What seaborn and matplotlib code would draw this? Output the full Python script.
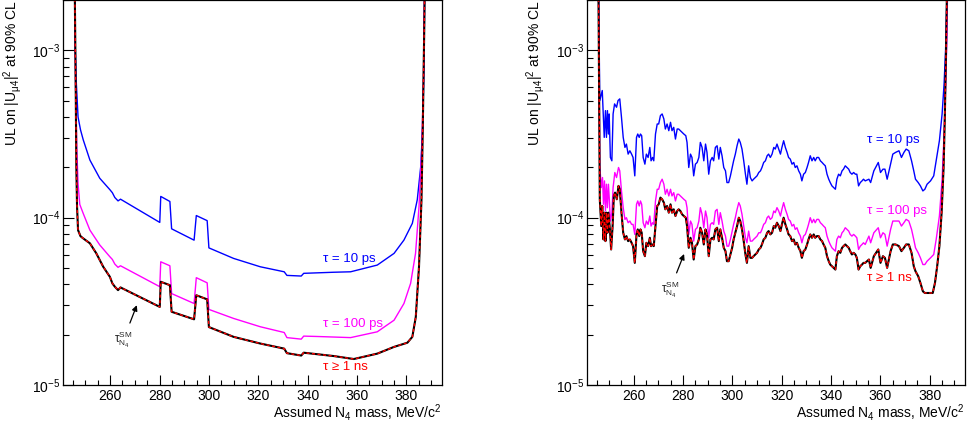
import numpy as np
import matplotlib
matplotlib.use('Agg')
import matplotlib.pyplot as plt
import seaborn as sns
from matplotlib.ticker import MultipleLocator, LogLocator, NullFormatter, FixedFormatter, FixedLocator

# ============================================================
# DATA
# ============================================================
# Left panel: smooth limits, (mass MeV/c2, UL on |U_mu4|^2)
left_10ps = [(245.6, 3e-3), (245.9, 1.0e-3), (246.3, 6.4e-4), (247.0, 4.0e-4), (248.0, 3.35e-4),
             (249.1, 2.92e-4), (251.8, 2.21e-4), (255.8, 1.72e-4), (259.9, 1.47e-4), (260.9, 1.41e-4),
             (261.9, 1.32e-4), (263.2, 1.26e-4), (264.2, 1.29e-4), (280.1, 9.37e-5), (280.5, 1.34e-4),
             (284.2, 1.25e-4), (284.9, 8.58e-5), (294.0, 7.34e-5), (294.9, 1.03e-4), (299.3, 9.6e-5),
             (300.0, 6.6e-5), (310.0, 5.71e-5), (320.8, 5.09e-5), (330.5, 4.75e-5), (331.6, 4.52e-5),
             (337.4, 4.48e-5), (338.4, 4.65e-5), (350.5, 4.72e-5), (357.4, 4.75e-5), (368.2, 5.21e-5),
             (375.0, 6.12e-5), (379.0, 7.35e-5), (382.4, 9.25e-5), (384.4, 1.28e-4), (385.8, 2.02e-4),
             (386.6, 3.51e-4), (387.1, 8.0e-4), (387.5, 3e-3)]
left_100ps = [(245.6, 3e-3), (246.0, 6.0e-4), (246.5, 2.6e-4), (247.0, 1.6e-4), (247.7, 1.2e-4),
              (249.1, 1.06e-4), (251.8, 8.43e-5), (255.8, 6.87e-5), (259.9, 5.84e-5), (260.9, 5.63e-5),
              (261.9, 5.28e-5), (263.2, 5.05e-5), (264.2, 5.16e-5), (280.1, 3.87e-5), (280.5, 5.45e-5),
              (284.2, 5.16e-5), (284.9, 3.52e-5), (294.0, 3.07e-5), (294.9, 4.38e-5), (299.3, 4.08e-5),
              (300.0, 2.83e-5), (310.0, 2.50e-5), (320.8, 2.23e-5), (330.5, 2.06e-5), (331.6, 1.92e-5),
              (337.4, 1.88e-5), (338.4, 1.96e-5), (343.9, 1.95e-5), (357.4, 1.92e-5), (368.2, 2.08e-5),
              (375.0, 2.44e-5), (379.0, 3.07e-5), (381.7, 4.05e-5), (383.7, 6.12e-5), (385.1, 1.16e-4),
              (386.2, 2.54e-4), (386.9, 6.38e-4), (387.4, 3e-3)]
left_1ns = [(245.6, 3e-3), (246.1, 5.07e-4), (246.3, 2.02e-4), (246.6, 1.16e-4), (247.0, 8.43e-5),
            (248.0, 7.75e-5), (249.1, 7.52e-5), (251.8, 7.03e-5), (254.4, 6.12e-5), (257.2, 5.09e-5),
            (259.9, 4.43e-5), (260.9, 4.05e-5), (261.9, 3.87e-5), (263.2, 3.69e-5), (264.2, 3.83e-5),
            (280.1, 2.93e-5), (280.5, 4.14e-5), (284.2, 3.95e-5), (284.9, 2.74e-5), (294.0, 2.47e-5),
            (294.9, 3.44e-5), (299.3, 3.25e-5), (300.0, 2.22e-5), (310.0, 1.94e-5), (320.8, 1.77e-5),
            (330.5, 1.65e-5), (331.6, 1.55e-5), (337.4, 1.50e-5), (338.4, 1.56e-5), (350.5, 1.49e-5),
            (358.7, 1.43e-5), (368.2, 1.54e-5), (375.0, 1.69e-5), (380.4, 1.79e-5), (382.4, 1.94e-5),
            (383.8, 2.55e-5), (385.1, 5.09e-5), (386.1, 1.28e-4), (386.6, 3.2e-4), (387.2, 1.27e-3),
            (387.5, 3e-3)]

# Right panel: noisy limits, (mass MeV/c2, log10 UL)
right_10ps = [(245.6, -2.50), (246.2, -3.30), (247.2, -3.24), (248.0, -3.52), (248.5, -3.36), (248.9, -3.52),
              (249.3, -3.36), (249.7, -3.50), (250.0, -3.38), (250.5, -3.64), (251.1, -3.66), (251.6, -3.38),
              (252.2, -3.32), (253.0, -3.34), (253.6, -3.30), (254.3, -3.29), (255.0, -3.40), (255.7, -3.52),
              (256.4, -3.58), (257.0, -3.56), (257.7, -3.62), (258.4, -3.60), (259.1, -3.62), (259.7, -3.64),
              (260.4, -3.75), (261.1, -3.52), (261.6, -3.50), (262.2, -3.52), (262.7, -3.50), (263.2, -3.51),
              (263.8, -3.64), (264.5, -3.68), (265.1, -3.62), (265.8, -3.64), (266.5, -3.58), (267.0, -3.66),
              (267.6, -3.64), (268.1, -3.66), (268.8, -3.50), (269.5, -3.44), (270.1, -3.44), (270.8, -3.39),
              (271.5, -3.38), (272.2, -3.41), (272.8, -3.47), (273.5, -3.44), (274.2, -3.48), (274.9, -3.43),
              (275.5, -3.48), (276.2, -3.46), (276.9, -3.53), (277.6, -3.47), (278.2, -3.47), (278.9, -3.48),
              (279.6, -3.49), (280.3, -3.50), (281.1, -3.51), (281.6, -3.55), (282.3, -3.70), (283.0, -3.62),
              (283.6, -3.64), (284.3, -3.75), (285.0, -3.68), (285.7, -3.67), (286.4, -3.64), (287.0, -3.55),
              (287.7, -3.58), (288.4, -3.66), (289.1, -3.56), (289.7, -3.61), (290.4, -3.74), (291.1, -3.66),
              (291.8, -3.64), (292.4, -3.66), (293.1, -3.58), (293.8, -3.57), (294.5, -3.65), (295.1, -3.58),
              (295.8, -3.63), (296.5, -3.70), (297.2, -3.72), (297.8, -3.79), (298.5, -3.79), (299.2, -3.75),
              (299.9, -3.70), (300.5, -3.66), (301.2, -3.62), (301.9, -3.57), (302.6, -3.53), (303.2, -3.55),
              (303.9, -3.59), (304.6, -3.66), (305.3, -3.74), (305.9, -3.80), (306.6, -3.69), (307.3, -3.76),
              (308.0, -3.78), (308.6, -3.77), (309.3, -3.76), (310.0, -3.75), (310.7, -3.73), (311.4, -3.72),
              (312.0, -3.70), (312.7, -3.67), (313.4, -3.66), (314.1, -3.63), (314.7, -3.62), (315.4, -3.64),
              (316.1, -3.62), (316.8, -3.58), (317.4, -3.59), (318.1, -3.56), (318.8, -3.59), (319.5, -3.62),
              (320.1, -3.58), (320.8, -3.54), (321.5, -3.58), (322.2, -3.61), (322.8, -3.64), (323.5, -3.65),
              (324.2, -3.68), (324.9, -3.67), (325.5, -3.70), (326.2, -3.69), (326.9, -3.72), (327.6, -3.74),
              (328.2, -3.78), (328.9, -3.74), (329.6, -3.73), (330.3, -3.70), (330.9, -3.67), (331.6, -3.63),
              (332.3, -3.66), (333.0, -3.64), (333.6, -3.66), (334.3, -3.64), (335.0, -3.64), (335.7, -3.66),
              (336.4, -3.67), (337.0, -3.68), (337.7, -3.69), (338.4, -3.74), (339.1, -3.77), (339.7, -3.79),
              (340.4, -3.81), (341.1, -3.82), (341.8, -3.83), (342.4, -3.77), (343.1, -3.74), (343.8, -3.75),
              (344.5, -3.72), (345.1, -3.71), (345.8, -3.69), (346.5, -3.70), (347.2, -3.71), (347.8, -3.73),
              (348.5, -3.74), (349.2, -3.73), (349.9, -3.74), (350.5, -3.74), (351.2, -3.81), (351.9, -3.79),
              (352.6, -3.78), (353.2, -3.77), (353.9, -3.78), (355.4, -3.77), (356.1, -3.79), (357.4, -3.72),
              (359.2, -3.67), (360.1, -3.73), (361.1, -3.71), (361.9, -3.71), (362.8, -3.77), (364.2, -3.68),
              (365.1, -3.62), (366.2, -3.61), (367.6, -3.60), (368.6, -3.64), (369.6, -3.61), (370.5, -3.59),
              (371.6, -3.60), (372.7, -3.66), (373.6, -3.72), (374.3, -3.77), (375.4, -3.79), (376.3, -3.81),
              (377.3, -3.84), (378.1, -3.83), (379.0, -3.80), (380.4, -3.78), (381.7, -3.75), (382.7, -3.66),
              (384.0, -3.54), (385.1, -3.38), (385.9, -3.20), (386.5, -3.00), (386.9, -2.78), (387.3, -2.50)]
right_100ps = [(245.6, -2.50), (246.2, -3.69), (246.8, -3.82), (247.3, -3.76), (247.7, -3.92), (248.1, -3.78),
               (248.5, -3.96), (248.9, -3.80), (249.3, -3.94), (249.7, -3.80), (250.1, -3.90), (250.5, -4.02),
               (251.1, -3.97), (251.6, -3.82), (252.3, -3.73), (253.0, -3.76), (253.8, -3.70), (254.3, -3.72),
               (255.0, -3.84), (255.7, -3.94), (256.4, -4.01), (257.0, -4.00), (257.7, -4.03), (258.4, -4.02),
               (259.1, -4.04), (259.7, -4.04), (260.4, -4.10), (261.1, -3.92), (261.6, -3.90), (262.2, -3.93),
               (262.7, -3.90), (263.2, -3.92), (263.8, -4.03), (264.5, -4.06), (265.1, -4.02), (265.8, -4.04),
               (266.5, -3.99), (267.0, -4.05), (267.6, -4.03), (268.1, -4.04), (268.8, -3.90), (269.5, -3.83),
               (270.1, -3.83), (270.8, -3.79), (271.5, -3.77), (272.2, -3.80), (272.8, -3.86), (273.5, -3.83),
               (274.2, -3.87), (274.9, -3.83), (275.5, -3.87), (276.2, -3.85), (276.9, -3.90), (277.6, -3.86),
               (278.2, -3.86), (278.9, -3.87), (279.6, -3.88), (280.3, -3.89), (281.1, -3.90), (281.6, -3.94),
               (282.3, -4.10), (283.0, -4.02), (283.6, -4.04), (284.3, -4.14), (285.0, -4.07), (285.7, -4.06),
               (286.4, -4.02), (287.0, -3.94), (287.7, -3.98), (288.4, -4.06), (289.1, -3.96), (289.7, -4.00),
               (290.4, -4.12), (291.1, -4.04), (291.8, -4.03), (292.4, -4.04), (293.1, -3.96), (293.8, -3.95),
               (294.5, -4.04), (295.1, -3.97), (295.8, -4.02), (296.5, -4.08), (297.2, -4.11), (297.8, -4.17),
               (298.5, -4.17), (299.2, -4.13), (299.9, -4.08), (300.5, -4.04), (301.2, -4.00), (301.9, -3.95),
               (302.6, -3.91), (303.2, -3.93), (303.9, -3.98), (304.6, -4.05), (305.3, -4.12), (305.9, -4.15),
               (306.6, -4.08), (307.3, -4.14), (308.0, -4.14), (308.6, -4.13), (309.3, -4.12), (310.0, -4.11),
               (310.7, -4.09), (311.4, -4.09), (312.0, -4.07), (312.7, -4.04), (313.4, -4.03), (314.1, -4.00),
               (314.7, -3.99), (315.4, -4.01), (316.1, -4.00), (316.8, -3.96), (317.4, -3.97), (318.1, -3.94),
               (318.8, -3.96), (319.5, -3.99), (320.1, -3.95), (320.8, -3.91), (321.5, -3.95), (322.2, -3.98),
               (322.8, -4.01), (323.5, -4.02), (324.2, -4.05), (324.9, -4.04), (325.5, -4.07), (326.2, -4.06),
               (326.9, -4.09), (327.6, -4.11), (328.2, -4.15), (328.9, -4.11), (329.6, -4.10), (330.3, -4.07),
               (330.9, -4.04), (331.6, -4.00), (332.3, -4.03), (333.0, -4.01), (333.6, -4.03), (334.3, -4.01),
               (335.0, -4.01), (335.7, -4.03), (336.4, -4.04), (337.0, -4.05), (337.7, -4.06), (338.4, -4.11),
               (339.1, -4.14), (339.7, -4.16), (340.4, -4.18), (341.1, -4.19), (341.8, -4.20), (342.4, -4.13),
               (343.1, -4.11), (343.8, -4.12), (344.5, -4.09), (345.1, -4.08), (345.8, -4.06), (346.5, -4.07),
               (347.2, -4.08), (347.8, -4.10), (348.5, -4.11), (349.2, -4.10), (349.9, -4.11), (350.5, -4.12),
               (351.2, -4.19), (351.9, -4.17), (352.6, -4.16), (353.2, -4.15), (353.9, -4.16), (355.4, -4.11),
               (356.1, -4.15), (357.4, -4.09), (359.2, -4.06), (360.1, -4.12), (361.1, -4.09), (361.9, -4.10),
               (362.8, -4.17), (364.2, -4.07), (365.1, -4.02), (366.2, -4.02), (367.6, -4.02), (368.6, -4.05),
               (369.6, -4.03), (370.5, -4.01), (371.6, -4.02), (372.7, -4.07), (373.6, -4.13), (374.3, -4.18),
               (375.4, -4.21), (376.3, -4.24), (377.3, -4.28), (378.1, -4.28), (379.0, -4.26), (380.4, -4.24),
               (381.7, -4.22), (382.7, -4.13), (384.0, -3.99), (385.1, -3.77), (385.9, -3.50), (386.5, -3.22),
               (387.1, -2.90), (387.4, -2.50)]
right_1ns = [(245.6, -2.50), (246.2, -3.89), (246.8, -4.05), (247.2, -3.93), (247.7, -4.13), (248.1, -3.97),
             (248.5, -4.14), (248.9, -3.97), (249.3, -4.09), (249.7, -3.97), (250.3, -4.07), (250.8, -4.19),
             (251.4, -4.05), (251.9, -3.87), (252.4, -3.85), (253.1, -3.89), (253.8, -3.81), (254.3, -3.83),
             (255.0, -3.97), (255.7, -4.09), (256.4, -4.13), (257.0, -4.11), (257.7, -4.14), (258.4, -4.13),
             (259.1, -4.15), (259.7, -4.17), (260.4, -4.27), (261.1, -4.10), (261.6, -4.07), (262.2, -4.11),
             (262.7, -4.07), (263.2, -4.09), (263.8, -4.20), (264.5, -4.23), (265.1, -4.15), (265.8, -4.17),
             (266.5, -4.12), (267.0, -4.17), (267.6, -4.16), (268.1, -4.17), (268.8, -4.05), (269.5, -3.93),
             (270.1, -3.92), (270.8, -3.88), (271.5, -3.89), (272.2, -3.91), (272.8, -3.95), (273.5, -3.93),
             (274.2, -3.97), (274.9, -3.92), (275.5, -3.97), (276.2, -3.95), (276.9, -3.99), (277.6, -3.96),
             (278.2, -3.95), (278.9, -3.96), (279.6, -3.98), (280.3, -3.99), (281.1, -4.00), (281.6, -4.05),
             (282.3, -4.18), (283.0, -4.12), (283.6, -4.15), (284.3, -4.25), (285.0, -4.17), (285.7, -4.16),
             (286.4, -4.13), (287.0, -4.06), (287.7, -4.09), (288.4, -4.16), (289.1, -4.07), (289.7, -4.10),
             (290.4, -4.23), (291.1, -4.13), (291.8, -4.12), (292.4, -4.13), (293.1, -4.07), (293.8, -4.06),
             (294.5, -4.14), (295.1, -4.07), (295.8, -4.12), (296.5, -4.18), (297.2, -4.20), (297.8, -4.26),
             (298.5, -4.26), (299.2, -4.22), (299.9, -4.18), (300.5, -4.13), (301.2, -4.09), (301.9, -4.05),
             (302.6, -4.00), (303.2, -4.02), (303.9, -4.07), (304.6, -4.14), (305.3, -4.22), (305.9, -4.27),
             (306.6, -4.17), (307.3, -4.24), (308.0, -4.24), (308.6, -4.23), (309.3, -4.22), (310.0, -4.21),
             (310.7, -4.19), (311.4, -4.18), (312.0, -4.16), (312.7, -4.13), (313.4, -4.12), (314.1, -4.09),
             (314.7, -4.08), (315.4, -4.10), (316.1, -4.09), (316.8, -4.05), (317.4, -4.06), (318.1, -4.03),
             (318.8, -4.05), (319.5, -4.08), (320.1, -4.04), (320.8, -4.00), (321.5, -4.04), (322.2, -4.07),
             (322.8, -4.10), (323.5, -4.11), (324.2, -4.14), (324.9, -4.13), (325.5, -4.16), (326.2, -4.15),
             (326.9, -4.18), (327.6, -4.20), (328.2, -4.24), (328.9, -4.20), (329.6, -4.19), (330.3, -4.16),
             (330.9, -4.13), (331.6, -4.10), (332.3, -4.12), (333.0, -4.10), (333.6, -4.12), (334.3, -4.11),
             (335.0, -4.11), (335.7, -4.13), (336.4, -4.14), (337.0, -4.16), (337.7, -4.18), (338.4, -4.23),
             (339.1, -4.26), (339.7, -4.28), (340.4, -4.29), (341.1, -4.30), (341.8, -4.31), (342.4, -4.23),
             (343.1, -4.20), (343.8, -4.21), (344.5, -4.18), (345.1, -4.17), (345.8, -4.16), (346.5, -4.17),
             (347.2, -4.18), (347.8, -4.20), (348.5, -4.22), (349.2, -4.21), (349.9, -4.22), (350.5, -4.24),
             (351.2, -4.31), (351.9, -4.29), (352.6, -4.28), (353.2, -4.27), (353.9, -4.27), (355.4, -4.25),
             (356.1, -4.30), (357.4, -4.23), (359.2, -4.19), (360.1, -4.27), (361.1, -4.23), (361.9, -4.24),
             (362.8, -4.30), (364.2, -4.20), (365.1, -4.16), (366.2, -4.16), (367.6, -4.17), (368.6, -4.20),
             (369.6, -4.18), (370.5, -4.16), (371.6, -4.16), (372.7, -4.21), (373.6, -4.29), (374.3, -4.32),
             (375.4, -4.35), (376.3, -4.39), (377.3, -4.44), (378.1, -4.45), (379.0, -4.45), (380.4, -4.45),
             (381.3, -4.45), (382.2, -4.39), (383.1, -4.29), (384.0, -4.17), (384.9, -3.97), (385.7, -3.70),
             (386.2, -3.40), (386.7, -3.00), (387.2, -2.50)]

SERIES_LABELS = ['τ = 10 ps', 'τ = 100 ps', 'τ ≥ 1 ns']
SERIES_COLORS = ['#0000ff', '#ff00ff', '#ff0000']
X_TICKS = [260, 280, 300, 320, 340, 360, 380]
Y_TICKS = [1e-5, 1e-4, 1e-3]
Y_TICK_LABELS = ['$10^{-5}$', '$10^{-4}$', '$10^{-3}$']

# ============================================================
# STYLE
# ============================================================
sns.set_theme(style='white')
plt.rcParams['font.family'] = ['Liberation Sans', 'DejaVu Sans']
plt.rcParams['mathtext.fontset'] = 'custom'
plt.rcParams['mathtext.rm'] = 'Liberation Sans'
plt.rcParams['mathtext.it'] = 'Liberation Sans:italic'
plt.rcParams['mathtext.bf'] = 'Liberation Sans:bold'


def draw_curve(ax, pts, color, log_values=False, **kw):
    mass = np.array([p[0] for p in pts])
    ul = np.array([p[1] for p in pts])
    if log_values:
        ul = 10.0 ** ul
    sns.lineplot(x=mass, y=ul, ax=ax, color=color, sort=False, estimator=None, **kw)


def style_axes(ax):
    ax.set_yscale('log')
    ax.set_xlim(240.9, 394.4)
    ax.set_ylim(1e-5, 2.0e-3)
    for sp in ax.spines.values():
        sp.set_color('black')
        sp.set_linewidth(0.9)
    ax.xaxis.set_major_locator(FixedLocator(X_TICKS))
    ax.xaxis.set_minor_locator(MultipleLocator(5))
    ax.yaxis.set_major_locator(FixedLocator(Y_TICKS))
    ax.yaxis.set_major_formatter(FixedFormatter(Y_TICK_LABELS))
    ax.yaxis.set_minor_locator(LogLocator(base=10, subs=range(2, 10)))
    ax.yaxis.set_minor_formatter(NullFormatter())
    ax.tick_params(which='both', direction='in', top=False, right=False,
                   left=True, bottom=True, colors='black', width=0.8, labelsize=10)
    ax.tick_params(axis='x', which='major', length=7, pad=3)
    ax.tick_params(axis='x', which='minor', length=3.6)
    ax.tick_params(axis='y', which='major', length=8, pad=2)
    ax.tick_params(axis='y', which='minor', length=4.3)
    ax.set_ylabel('UL on |U$_{\\mathrm{μ4}}$|$^{2}$ at 90% CL', loc='top', fontsize=10, color='black')
    ax.yaxis.set_label_coords(-0.104, 1.0)
    ax.set_xlabel('Assumed N$_{4}$ mass, MeV/c$^{2}$', loc='right', fontsize=10, color='black')
    ax.xaxis.set_label_coords(1.0, -0.043)


# ============================================================
# FIGURE
# ============================================================
fig = plt.figure(figsize=(9.69, 4.23), dpi=100)
ax_l = fig.add_axes([0.0650, 0.0898, 0.3911, 0.9102])
ax_r = fig.add_axes([0.6055, 0.0898, 0.3904, 0.9102])

for ax, curves, is_log in [(ax_l, [left_10ps, left_100ps, left_1ns], False),
                           (ax_r, [right_10ps, right_100ps, right_1ns], True)]:
    style_axes(ax)
    draw_curve(ax, curves[0], SERIES_COLORS[0], log_values=is_log, lw=1.0)
    draw_curve(ax, curves[1], SERIES_COLORS[1], log_values=is_log, lw=1.0)
    # SM lifetime (black) with the tau >= 1 ns limit dashed on top
    draw_curve(ax, curves[2], 'black', log_values=is_log, lw=1.5)
    draw_curve(ax, curves[2], SERIES_COLORS[2], log_values=is_log, lw=1.0,
               linestyle=(0, (2.2, 1.8)))

# curve labels
label_pos = {
    ax_l: [(346.3, 5.66e-5), (346.3, 2.33e-5), (346.3, 1.29e-5)],
    ax_r: [(354.7, 2.92e-4), (354.7, 1.09e-4), (354.7, 4.34e-5)],
}
for ax, pos in label_pos.items():
    for (x, y), lab, col in zip(pos, SERIES_LABELS, SERIES_COLORS):
        ax.text(x, y, lab, color=col, fontsize=9.5, ha='left', va='center')

sm_label = '$\\mathrm{τ}^{\\mathrm{SM}}_{\\mathrm{N}_{4}}$'
ax_l.annotate(sm_label, xy=(270.8, 3.0e-5), xytext=(265.3, 1.85e-5),
              ha='center', va='center', fontsize=8.5,
              arrowprops=dict(arrowstyle='-|>', color='black', lw=0.9, mutation_scale=8,
                              shrinkA=3, shrinkB=0))
ax_r.annotate(sm_label, xy=(280.4, 6.07e-5), xytext=(274.6, 3.69e-5),
              ha='center', va='center', fontsize=8.5,
              arrowprops=dict(arrowstyle='-|>', color='black', lw=0.9, mutation_scale=8,
                              shrinkA=3, shrinkB=0))

fig.savefig('out.png', dpi=100, facecolor='white')
